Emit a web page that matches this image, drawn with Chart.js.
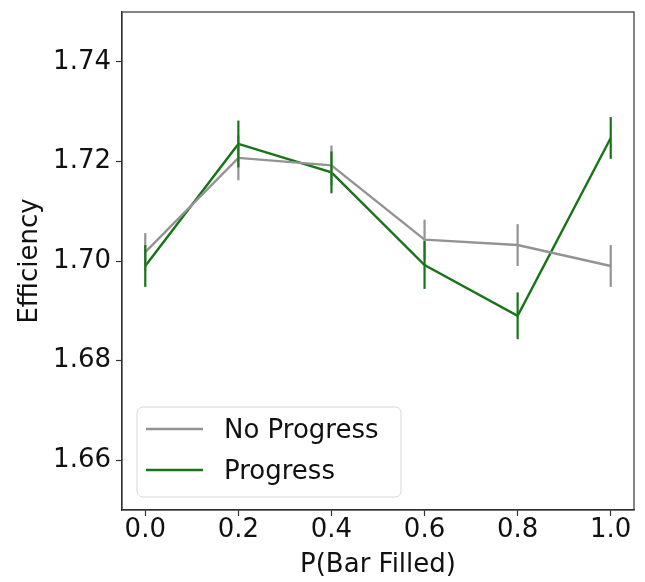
<!DOCTYPE html>
<html>
<head>
<meta charset="utf-8">
<script src="https://cdn.jsdelivr.net/npm/chart.js@4/dist/chart.umd.min.js"></script>
<style>
  html, body { margin: 0; padding: 0; background: #fff; }
  #wrap { width: 645px; height: 582px; }
</style>
</head>
<body>
<div id="wrap"><canvas id="chart" width="645" height="582"></canvas></div>
<script>
var pBarFilled = [0.0, 0.2, 0.4, 0.6, 0.8, 1.0];
var noProgress = [1.7018, 1.7207, 1.7192, 1.7043, 1.7032, 1.6990];
var noProgressErr = [0.0038, 0.0045, 0.0040, 0.0040, 0.0042, 0.0042];
var progress = [1.6990, 1.7235, 1.7178, 1.6992, 1.6890, 1.7247];
var progressErr = [0.0042, 0.0047, 0.0042, 0.0048, 0.0047, 0.0042];
var xTicks = [0.0, 0.2, 0.4, 0.6, 0.8, 1.0];
var yTicks = [1.66, 1.68, 1.70, 1.72, 1.74];

var grayCol = "#939393";
var greenCol = "#177517";
var font = { family: "DejaVu Sans", size: 26, lineHeight: 1.0 };

function pts(ys) {
    return pBarFilled.map(function (x, i) { return { x: x, y: ys[i] }; });
}

// vertical error bars, drawn through the chart scales
var errorBars = {
    id: "errorBars",
    afterDatasetsDraw: function (chart) {
        var ctx = chart.ctx;
        var xs = chart.scales.x, ys = chart.scales.y;
        chart.data.datasets.forEach(function (ds) {
            ctx.save();
            ctx.strokeStyle = ds.borderColor;
            ctx.lineWidth = 2.2;
            ds.data.forEach(function (p, i) {
                var px = xs.getPixelForValue(p.x);
                ctx.beginPath();
                ctx.moveTo(px, ys.getPixelForValue(p.y - ds.err[i]));
                ctx.lineTo(px, ys.getPixelForValue(p.y + ds.err[i]));
                ctx.stroke();
            });
            ctx.restore();
        });
    }
};

// frame round the plot and matplotlib-like legend
var frameLegend = {
    id: "frameLegend",
    afterDraw: function (chart) {
        var ctx = chart.ctx, a = chart.chartArea;
        ctx.save();
        ctx.strokeStyle = "#333";
        ctx.lineWidth = 1.2;
        ctx.strokeRect(a.left, a.top, a.right - a.left, a.bottom - a.top);

        var bx = 137, by = 407, bw = 264, bh = 90, r = 6;
        ctx.beginPath();
        ctx.roundRect(bx, by, bw, bh, r);
        ctx.fillStyle = "rgba(255,255,255,0.8)";
        ctx.fill();
        ctx.strokeStyle = "#d6d6d6";
        ctx.lineWidth = 1;
        ctx.stroke();

        ctx.font = "26px 'DejaVu Sans'";
        ctx.textBaseline = "middle";
        chart.data.datasets.forEach(function (ds, i) {
            var ly = 429 + i * 41;
            ctx.strokeStyle = ds.borderColor;
            ctx.lineWidth = 2.4;
            ctx.beginPath();
            ctx.moveTo(146, ly);
            ctx.lineTo(203, ly);
            ctx.stroke();
            ctx.fillStyle = "#111";
            ctx.fillText(ds.label, 224, ly + 2);
        });
        ctx.restore();
    }
};

new Chart(document.getElementById("chart"), {
    type: "line",
    data: {
        datasets: [{
            label: "No Progress",
            data: pts(noProgress),
            err: noProgressErr,
            borderColor: grayCol,
            borderWidth: 2.4,
            pointRadius: 0,
            tension: 0,
            fill: false
        }, {
            label: "Progress",
            data: pts(progress),
            err: progressErr,
            borderColor: greenCol,
            borderWidth: 2.4,
            pointRadius: 0,
            tension: 0,
            fill: false
        }]
    },
    options: {
        responsive: false,
        animation: false,
        layout: { padding: { left: 0, right: 11, top: 12, bottom: 0 } },
        plugins: {
            legend: { display: false },
            tooltip: { enabled: false }
        },
        scales: {
            x: {
                type: "linear",
                min: -0.05,
                max: 1.05,
                afterBuildTicks: function (s) { s.ticks = xTicks.map(function (v) { return { value: v }; }); },
                afterFit: function (s) { s.height = 72; s.paddingLeft = 0; s.paddingRight = 0; },
                grid: { drawOnChartArea: false, drawTicks: true, tickLength: 6, color: "#333", tickWidth: 1.2 },
                border: { display: true, color: "#333", width: 1.2 },
                ticks: {
                    font: font, color: "#111", padding: 1, maxRotation: 0,
                    callback: function (v) { return v.toFixed(1); }
                },
                title: {
                    display: true, text: "P(Bar Filled)", color: "#111",
                    font: { family: "DejaVu Sans", size: 26, lineHeight: 1.2 },
                    padding: { top: 0, bottom: 1 }
                }
            },
            y: {
                min: 1.65,
                max: 1.75,
                afterBuildTicks: function (s) { s.ticks = yTicks.map(function (v) { return { value: v }; }); },
                afterFit: function (s) { s.width = 122; s.paddingTop = 0; s.paddingBottom = 0; },
                grid: { drawOnChartArea: false, drawTicks: true, tickLength: 6, color: "#333", tickWidth: 1.2 },
                border: { display: true, color: "#333", width: 1.2 },
                ticks: {
                    font: font, color: "#111", padding: 5,
                    callback: function (v) { return v.toFixed(2); }
                },
                title: {
                    display: true, text: "Efficiency", color: "#111",
                    font: { family: "DejaVu Sans", size: 26, lineHeight: 1.2 },
                    padding: { top: 15, bottom: 0 }
                }
            }
        }
    },
    plugins: [errorBars, frameLegend]
});
</script>
</body>
</html>
